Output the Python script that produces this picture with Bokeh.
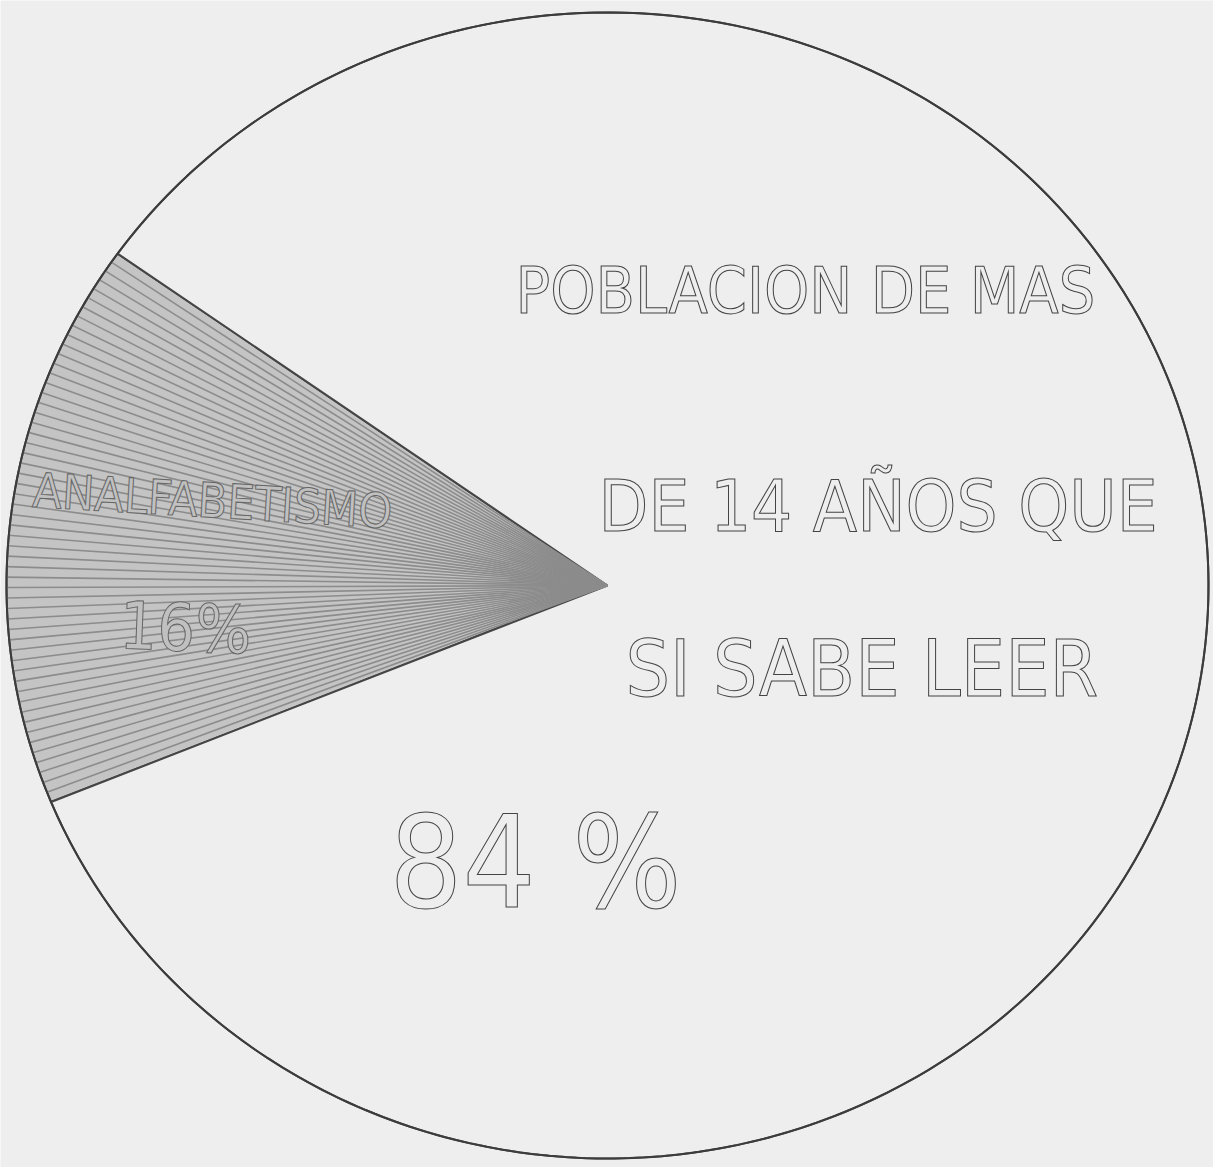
import numpy as np
from bokeh.plotting import figure
from bokeh.models import Range1d
from bokeh.embed import file_html
from bokeh.resources import INLINE
from bokeh.core.properties import value

# ---- data ----
categories = ["ANALFABETISMO", "SI SABE LEER"]
percents = [16, 84]
slice_labels = ["16%", "84 %"]
title_lines = ["POBLACION DE MAS", "DE 14 AÑOS QUE", "SI SABE LEER"]

# ---- layout / style ----
BG = "#eeeeee"
W, H = 1213, 1167
FONT = value("DejaVu Sans Condensed")

p = figure(width=W, height=H, x_range=Range1d(0, W), y_range=Range1d(H, 0),
           output_backend="svg", toolbar_location=None, min_border=0)
p.axis.visible = False
p.grid.visible = False
p.outline_line_color = None
p.background_fill_color = BG
p.border_fill_color = BG

cx, cy, rx, ry = 607, 585, 601, 573
start_deg = 144.6

fracs = np.array(percents, dtype=float) / sum(percents)
ends = np.deg2rad(start_deg) + np.cumsum(fracs) * 2 * np.pi
starts = np.concatenate([[np.deg2rad(start_deg)], ends[:-1]])


def arc(a0, a1, n=200):
    t = np.linspace(a0, a1, n)
    return cx + rx * np.cos(t), cy - ry * np.sin(t)


xs, ys = [], []
for a0, a1 in zip(starts, ends):
    ax, ay = arc(a0, a1)
    xs.append(np.concatenate([[cx], ax, [cx]]).tolist())
    ys.append(np.concatenate([[cy], ay, [cy]]).tolist())

fills = ["#c4c4c4", BG]
p.patches(xs, ys, fill_color=fills, line_color="#454545", line_width=2)

# radial hatching of the small slice
ha = np.linspace(starts[0], ends[0], 56)[1:-1]
hx = [[cx, cx + rx * np.cos(a)] for a in ha]
hy = [[cy, cy - ry * np.sin(a)] for a in ha]
p.multi_line(hx, hy, line_color="#8c8c8c", line_width=1.6)

# outer outline
ox, oy = arc(0, 2 * np.pi, 400)
p.line(ox, oy, line_color="#3c3c3c", line_width=2)

# title text in the big slice (one line per call to match each line's width)
for txt, tx, ty, fs in zip(title_lines, [515, 598, 625], [290, 505, 668],
                           ["64px", "72px", "78px"]):
    p.text(x=[tx], y=[ty], text=[txt], text_font=FONT, text_font_size=fs,
           text_align="left", text_baseline="middle",
           text_color=BG, text_outline_color="#444444")

# big slice percentage
p.text(x=[535], y=[862], text=[slice_labels[1]], text_font=FONT,
       text_font_size="128px", text_align="center", text_baseline="middle",
       text_color=BG, text_outline_color="#444444")

# small slice labels
p.text(x=[212], y=[500], text=[categories[0]], angle=-0.06, text_font=FONT,
       text_font_size="48px", text_align="center", text_baseline="middle",
       text_color="#c0c0c0", text_outline_color="#666666")
p.text(x=[185], y=[628], text=[slice_labels[0]], angle=-0.04, text_font=FONT,
       text_font_size="66px", text_align="center", text_baseline="middle",
       text_color="#c0c0c0", text_outline_color="#666666")

html = file_html(p, INLINE)
html = html.replace("<body>", '<body style="background-color:%s">' % BG, 1)
open("out.html", "w").write(html)
